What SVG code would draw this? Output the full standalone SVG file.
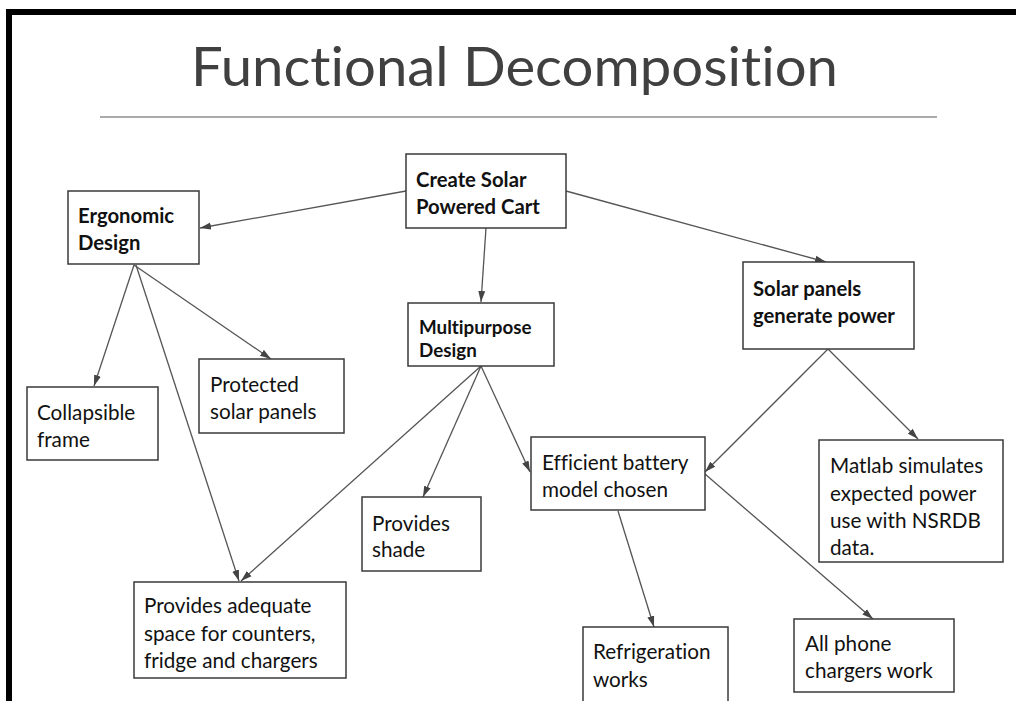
<svg xmlns="http://www.w3.org/2000/svg" width="1016" height="701" viewBox="0 0 1016 701">
<defs>
<style>
text{font-variant-ligatures:none;font-feature-settings:"liga" 0,"clig" 0}
.box{fill:#fff;stroke:#3a3a3a;stroke-width:1.5}
.t{font-family:Lato,"Liberation Sans",sans-serif;font-size:20.7px;fill:#111}
.b{font-family:Lato,"Liberation Sans",sans-serif;font-size:20.3px;font-weight:bold;fill:#111}
.c{stroke:#555;stroke-width:1.3;fill:none;marker-end:url(#ah)}
</style>
<marker id="ah" markerUnits="userSpaceOnUse" markerWidth="12" markerHeight="8" refX="11" refY="4" orient="auto">
<path d="M0,0.5 L11,4 L0,7.5 z" fill="#444"/>
</marker>
</defs>
<rect x="0" y="0" width="1016" height="701" fill="#fff"/>
<rect x="6" y="9" width="1010" height="6" fill="#000"/>
<rect x="6" y="9" width="6" height="692" fill="#000"/>
<g id="title">
<text x="191" y="86" font-family="Lato,'Liberation Sans',sans-serif" font-size="54" fill="#404040" textLength="647" lengthAdjust="spacingAndGlyphs">Functional Decomposition</text>
<line x1="100" y1="117" x2="937" y2="117" stroke="#aaa" stroke-width="2"/>
</g>
<g id="connectors">
<line class="c" x1="406" y1="191" x2="200" y2="228"/>
<line class="c" x1="486" y1="228" x2="481" y2="302"/>
<line class="c" x1="566" y1="191" x2="826" y2="262"/>
<line class="c" x1="134" y1="265" x2="94" y2="386"/>
<line class="c" x1="134" y1="265" x2="271" y2="359"/>
<line class="c" x1="136" y1="265" x2="239" y2="581"/>
<line class="c" x1="481" y1="366" x2="241" y2="581"/>
<line class="c" x1="481" y1="366" x2="423" y2="497"/>
<line class="c" x1="481" y1="366" x2="530" y2="472"/>
<line class="c" x1="828" y1="349" x2="705" y2="472"/>
<line class="c" x1="828" y1="349" x2="918" y2="439"/>
<line class="c" x1="618" y1="511" x2="654" y2="627"/>
<line class="c" x1="705" y1="474" x2="873" y2="619"/>
</g>
<g id="create">
<rect class="box" x="406" y="154" width="160" height="74"/>
<text class="b" x="416" y="187">Create Solar</text>
<text class="b" x="416" y="214">Powered Cart</text>
</g>
<g id="ergonomic">
<rect class="box" x="68" y="191" width="131" height="73"/>
<text class="b" x="78" y="223">Ergonomic</text>
<text class="b" x="78" y="250">Design</text>
</g>
<g id="multipurpose">
<rect class="box" x="408" y="303" width="146" height="63"/>
<text class="b" x="419" y="334" style="font-size:18.8px">Multipurpose</text>
<text class="b" x="419" y="357" style="font-size:18.8px">Design</text>
</g>
<g id="solar">
<rect class="box" x="743" y="262" width="171" height="87"/>
<text class="b" x="753" y="296">Solar panels</text>
<text class="b" x="753" y="323">generate power</text>
</g>
<g id="collapsible">
<rect class="box" x="27" y="387" width="131" height="73"/>
<text class="t" x="37" y="420">Collapsible</text>
<text class="t" x="37" y="447">frame</text>
</g>
<g id="protected">
<rect class="box" x="199" y="359" width="145" height="74"/>
<text class="t" x="210" y="392">Protected</text>
<text class="t" x="210" y="419">solar panels</text>
</g>
<g id="shade">
<rect class="box" x="362" y="497" width="119" height="74"/>
<text class="t" x="372" y="531">Provides</text>
<text class="t" x="372" y="557">shade</text>
</g>
<g id="space">
<rect class="box" x="134" y="582" width="212" height="96"/>
<text class="t" x="144" y="613">Provides adequate</text>
<text class="t" x="144" y="641">space for counters,</text>
<text class="t" x="144" y="668">fridge and chargers</text>
</g>
<g id="battery">
<rect class="box" x="531" y="437" width="174" height="73"/>
<text class="t" x="542" y="470">Efficient battery</text>
<text class="t" x="542" y="497">model chosen</text>
</g>
<g id="matlab">
<rect class="box" x="819" y="440" width="184" height="122"/>
<text class="t" x="830" y="473">Matlab simulates</text>
<text class="t" x="830" y="501">expected power</text>
<text class="t" x="830" y="528">use with NSRDB</text>
<text class="t" x="830" y="555">data.</text>
</g>
<g id="refrigeration">
<rect class="box" x="583" y="627" width="145" height="90"/>
<text class="t" x="593" y="659">Refrigeration</text>
<text class="t" x="593" y="687">works</text>
</g>
<g id="phone">
<rect class="box" x="794" y="619" width="160" height="73"/>
<text class="t" x="805" y="651">All phone</text>
<text class="t" x="805" y="678">chargers work</text>
</g>
</svg>
